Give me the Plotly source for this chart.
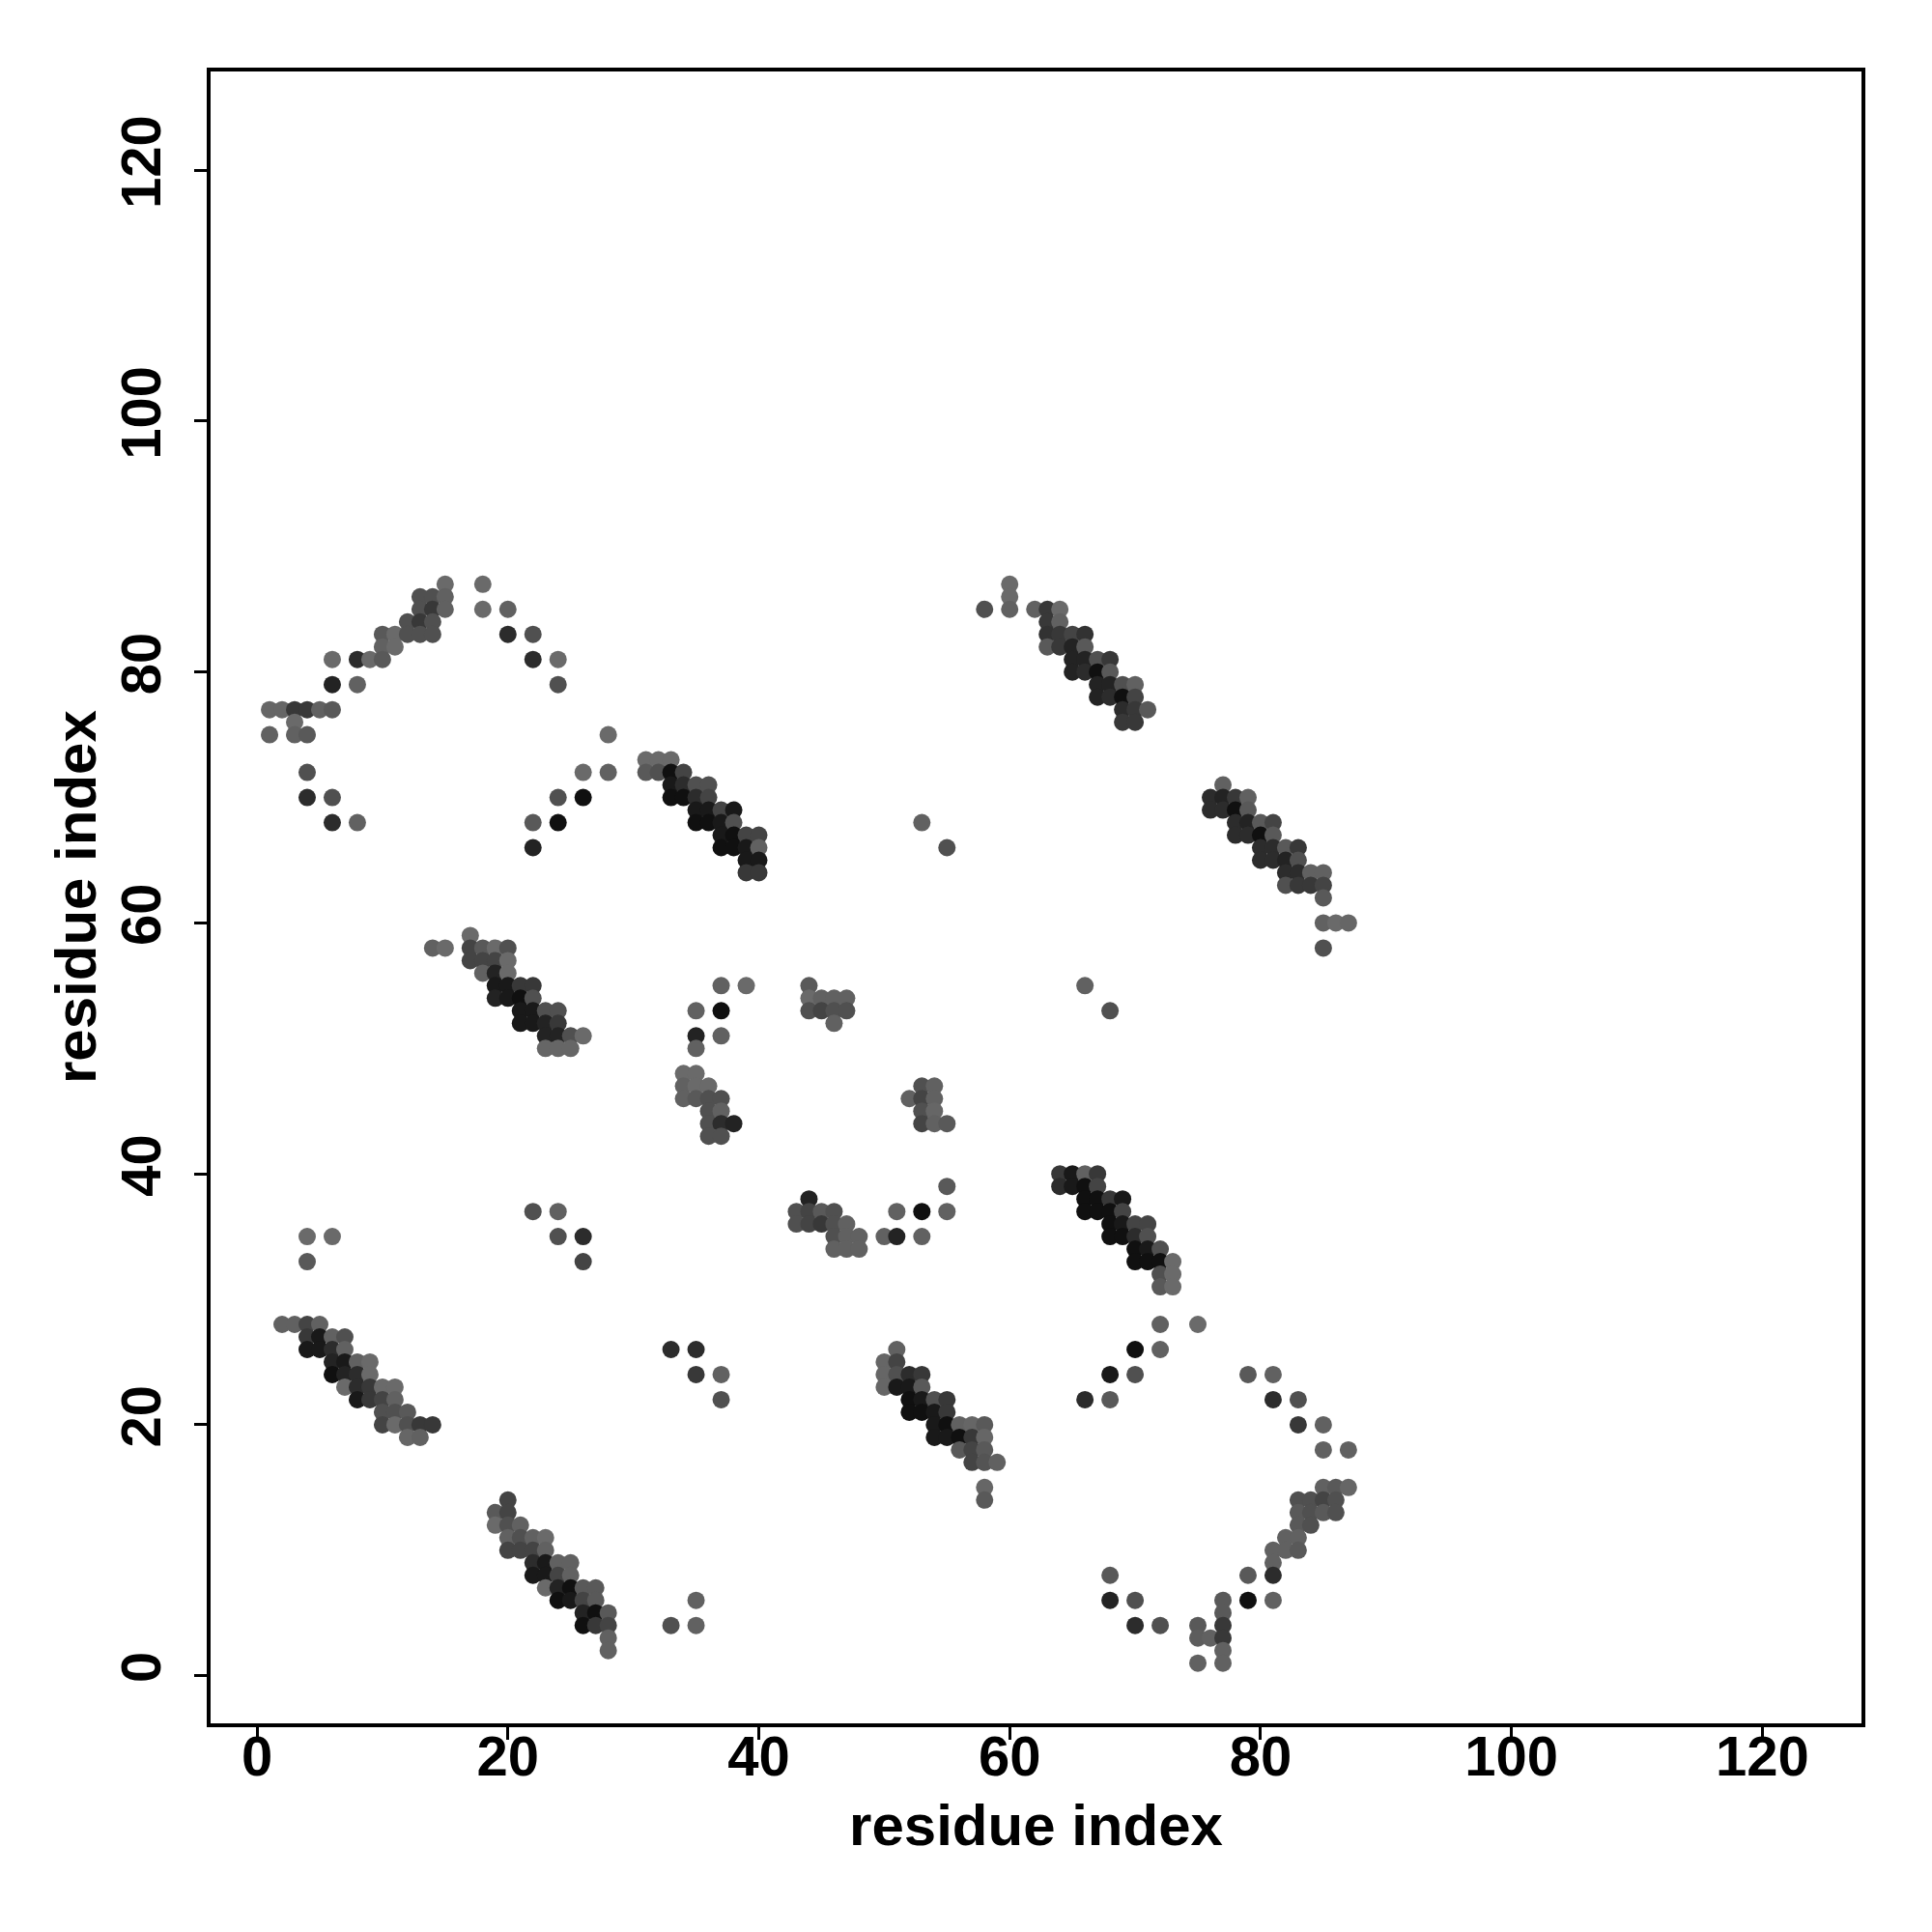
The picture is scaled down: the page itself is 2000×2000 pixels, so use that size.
import plotly.graph_objects as go

# Contact map points: residue i (x), residue j (y), contact strength (shade 0..1)
cluster_pts = []

def add(y, xs, shades):
    for x, s in zip(xs, shades):
        cluster_pts.append((x, y, s))

# --- top-left arc ---
add(87, [15, 18], [.2, .2])
add(86, [13, 14, 15], [.5, .5, .3])
add(85, [13, 14, 15, 18, 20], [.5, .7, .3, .2, .3])
add(84, [12, 13, 14], [.5, .7, .5])
add(83, [10, 11, 12, 13, 14, 20, 22], [.4, .2, .5, .5, .5, .8, .5])
add(82, [10, 11], [.3, .2])
add(81, [6, 8, 9, 10, 22, 24], [.2, .8, .2, .4, .8, .2])
add(79, [6, 8, 24], [.85, .3, .5])
add(77, [1, 2, 3, 4, 5, 6], [.25, .25, .7, .7, .3, .4])
add(76, [3], [.2])
add(75, [1, 3, 4, 28], [.3, .3, .4, .2])
add(72, [4, 26, 28], [.5, .2, .3])
add(70, [4, 6, 24, 26], [.8, .5, .5, .95])
add(68, [6, 8, 22, 24], [.8, .3, .4, .95])
add(66, [22], [.85])
# --- strand 31-40 / 64-73 ---
add(73, [31, 32, 33], [.2, .2, .2])
add(72, [31, 32, 33, 34], [.4, .5, .95, .6])
add(71, [33, 34, 35, 36], [.9, .8, .5, .5])
add(70, [33, 34, 35, 36], [.95, .95, .8, .6])
add(69, [35, 36, 37, 38], [.9, .9, .6, .9])
add(68, [35, 36, 37, 38], [.95, .95, .9, .5])
add(67, [37, 38, 39, 40], [.9, .95, .6, .6])
add(66, [37, 38, 39, 40], [.95, .95, .9, .3])
add(65, [39, 40], [.9, .9])
add(64, [39, 40], [.7, .7])
# --- strand 58-71 / 76-87 ---
add(87, [60], [.2])
add(86, [60], [.2])
add(85, [58, 60, 62, 63, 64], [.5, .3, .3, .7, .2])
add(84, [63, 64], [.7, .3])
add(83, [63, 64, 65, 66], [.75, .7, .6, .75])
add(82, [63, 64, 65, 66], [.4, .7, .85, .4])
add(81, [65, 66, 67, 68], [.85, .85, .5, .7])
add(80, [65, 66, 67, 68], [.85, .8, .95, .4])
add(79, [67, 68, 69, 70], [.85, .85, .5, .3])
add(78, [67, 68, 69, 70], [.85, .8, .95, .6])
add(77, [69, 70, 71], [.8, .7, .4])
add(76, [69, 70], [.7, .7])
add(68, [53], [.3])
add(66, [55], [.5])
# --- strand 76-87 / 58-71 ---
add(71, [77], [.3])
add(70, [76, 77, 78, 79], [.8, .85, .7, .3])
add(69, [76, 77, 78, 79], [.8, .8, .95, .4])
add(68, [78, 79, 80, 81], [.8, .85, .4, .6])
add(67, [78, 79, 80, 81], [.8, .8, .95, .4])
add(66, [80, 81, 82, 83], [.8, .8, .4, .7])
add(65, [80, 81, 82, 83], [.8, .8, .85, .5])
add(64, [82, 83, 84, 85], [.8, .8, .3, .3])
add(63, [82, 83, 84, 85], [.5, .7, .7, .6])
add(62, [85], [.4])
add(60, [85, 86, 87], [.3, .2, .25])
add(58, [85], [.5])
# --- strand 14-26 / 50-59 ---
add(59, [17], [.2])
add(58, [14, 15, 17, 18, 19, 20], [.3, .2, .6, .4, .2, .5])
add(57, [17, 18, 19, 20], [.6, .6, .6, .2])
add(56, [18, 19, 20], [.3, .85, .2])
add(55, [19, 20, 21, 22], [.9, .9, .7, .7])
add(54, [19, 20, 21, 22], [.85, .9, .95, .5])
add(53, [21, 22, 23, 24], [.9, .9, .5, .5])
add(52, [21, 22, 23, 24], [.9, .9, .85, .7])
add(51, [23, 24, 25, 26], [.85, .85, .5, .2])
add(50, [23, 24, 25], [.25, .25, .25])
# --- middle clusters ---
add(55, [37, 39, 44, 66], [.3, .2, .4, .3])
add(54, [44, 45, 46, 47], [.2, .3, .3, .3])
add(53, [35, 37, 44, 45, 46, 47, 68], [.3, .95, .5, .6, .5, .5, .5])
add(52, [46], [.3])
add(51, [35, 37], [.85, .3])
add(50, [35], [.3])
add(48, [34, 35], [.2, .2])
add(47, [34, 35, 36, 53, 54], [.3, .2, .2, .5, .3])
add(46, [34, 35, 36, 37, 52, 53, 54], [.3, .4, .5, .5, .3, .6, .3])
add(45, [36, 37, 53, 54], [.5, .3, .5, .25])
add(44, [36, 37, 38, 53, 54, 55], [.5, .8, .85, .6, .3, .4])
add(43, [36, 37], [.5, .5])
add(39, [55], [.4])
add(38, [44], [.85])
add(37, [22, 24, 43, 44, 45, 46, 51, 53, 55], [.5, .3, .5, .6, .4, .5, .3, .95, .3])
add(36, [43, 44, 45, 46, 47], [.5, .6, .7, .5, .3])
add(35, [4, 6, 24, 26, 46, 47, 48, 50, 51, 53], [.2, .2, .5, .8, .5, .3, .3, .3, .85, .3])
add(34, [46, 47, 48], [.3, .3, .3])
add(33, [4, 26], [.4, .6])
# --- strand 64-73 / 31-40 ---
add(40, [64, 65, 66, 67], [.7, .9, .3, .7])
add(39, [64, 65, 66, 67], [.8, .9, .95, .6])
add(38, [66, 67, 68, 69], [.95, .95, .7, .9])
add(37, [66, 67, 68, 69], [.95, .95, .95, .6])
add(36, [68, 69, 70, 71], [.95, .9, .6, .6])
add(35, [68, 69, 70, 71], [.95, .95, .8, .5])
add(34, [70, 71, 72], [.95, .9, .5])
add(33, [70, 71, 72, 73], [.95, .95, .95, .2])
add(32, [72, 73], [.5, .2])
add(31, [72, 73], [.4, .2])
# --- strand 2-14 / 19-28 and lower region ---
add(28, [2, 3, 4, 5, 72, 75], [.3, .3, .6, .3, .3, .2])
add(27, [4, 5, 6, 7], [.7, .9, .3, .5])
add(26, [4, 5, 6, 7, 33, 35, 51, 70, 72], [.9, .9, .8, .3, .8, .8, .3, .95, .3])
add(25, [6, 7, 8, 9, 50, 51], [.85, .9, .3, .2, .25, .6])
add(24, [6, 7, 8, 9, 35, 37, 50, 51, 52, 53, 68, 70, 79, 81], [.95, .85, .8, .2, .7, .3, .25, .5, .8, .7, .9, .5, .4, .3])
add(23, [7, 8, 9, 10, 11, 50, 51, 52, 53], [.2, .8, .7, .2, .2, .25, .9, .9, .4])
add(22, [8, 9, 10, 11, 37, 52, 53, 54, 55, 66, 68, 81, 83], [.9, .7, .6, .3, .5, .95, .9, .5, .7, .8, .4, .8, .5])
add(21, [10, 11, 12, 52, 53, 54, 55], [.5, .5, .4, .95, .95, .9, .7])
add(20, [10, 11, 12, 13, 14, 54, 55, 56, 57, 58, 83, 85], [.6, .2, .5, .7, .7, .9, .95, .3, .25, .4, .7, .3])
add(19, [12, 13, 54, 55, 56, 57, 58], [.25, .3, .9, .9, .95, .7, .25])
add(18, [56, 57, 58, 85, 87], [.4, .6, .4, .3, .3])
add(17, [57, 58, 59], [.6, .45, .3])
add(15, [58, 85, 86, 87], [.25, .3, .4, .25])
add(14, [20, 58, 83, 84, 85, 86], [.6, .4, .5, .5, .6, .5])
add(13, [19, 20, 83, 84, 85, 86], [.4, .6, .4, .5, .4, .5])
add(12, [19, 20, 21, 83, 84], [.2, .5, .3, .4, .5])
add(11, [20, 21, 22, 23, 82, 83], [.3, .5, .3, .2, .3, .3])
add(10, [20, 21, 22, 23, 81, 82, 83], [.6, .6, .6, .3, .3, .3, .4])
add(9, [22, 23, 24, 25, 81], [.8, .9, .3, .3, .3])
add(8, [22, 23, 24, 25, 68, 79, 81], [.9, .9, .6, .3, .4, .4, .8])
add(7, [23, 24, 25, 26, 27], [.2, .85, .95, .4, .4])
add(6, [24, 25, 26, 27, 35, 68, 70, 77, 79, 81], [.95, .9, .6, .4, .3, .85, .5, .4, .95, .3])
add(5, [26, 27, 28, 77], [.85, .95, .4, .4])
add(4, [26, 27, 28, 33, 35, 70, 72, 75, 77], [.95, .7, .6, .5, .3, .8, .5, .4, .7])
add(3, [28, 75, 76, 77], [.3, .35, .3, .7])
add(2, [28, 77], [.3, .3])
add(1, [75, 77], [.3, .3])

residue_i = [p[0] for p in cluster_pts]
residue_j = [p[1] for p in cluster_pts]
strength = [p[2] for p in cluster_pts]

tick_vals = [0, 20, 40, 60, 80, 100, 120]
tick_text = ["0", "20", "40", "60", "80", "100", "120"]
axis_label = "residue index"

fig = go.Figure()
fig.add_trace(go.Scatter(
    x=residue_i, y=residue_j, mode="markers",
    marker=dict(size=18, color=strength, cmin=0, cmax=1,
                colorscale=[[0, "#7a7a7a"], [0.2, "#6a6a6a"], [0.5, "#505050"],
                            [0.8, "#2c2c2c"], [1, "#060606"]],
                line=dict(width=0), opacity=1),
    showlegend=False, hoverinfo="x+y"))

font = dict(family="Liberation Sans, Arial, sans-serif", size=58, color="black", weight="bold")
axis_common = dict(
    showline=True, linewidth=4, linecolor="black", mirror=True,
    ticks="outside", ticklen=13, tickwidth=3, tickcolor="black",
    showgrid=False, zeroline=False, tickfont=font, automargin=False,
    tickvals=tick_vals, ticktext=tick_text,
)
L, R, T, B = 210, 81, 66, 224
fig.update_layout(
    width=2000, height=2000,
    margin=dict(l=L, r=R, t=T, b=B),
    plot_bgcolor="white", paper_bgcolor="white",
    xaxis=dict(range=[-3.7, 127.9], ticklabelstandoff=-33,
               title=dict(text=axis_label, font=dict(font, size=60), standoff=20), **axis_common),
    yaxis=dict(range=[-3.8, 127.87], tickangle=-90, ticklabelstandoff=12, **axis_common),
    annotations=[dict(text=axis_label, textangle=-90, xref="paper", yref="paper",
                      x=(70 - L) / (2000 - L - R), y=0.5, xanchor="center", yanchor="middle",
                      showarrow=False, font=dict(font, size=60))],
)
fig.write_html("out.html")
